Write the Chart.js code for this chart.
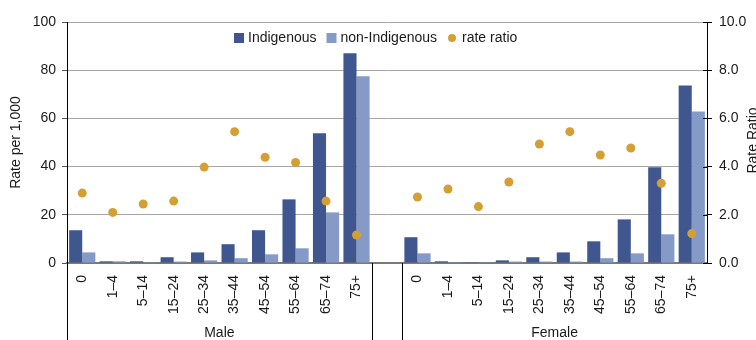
<!DOCTYPE html>
<html lang="en">
  <head>
    <meta charset="UTF-8" />
    <title>Rate per 1,000 by age group</title>
    <style>
      body { margin: 0; background: #fff; }
      #wrap { width: 756px; height: 340px; position: relative; }
    </style>
  </head>

  <body>
    <script src="https://cdn.jsdelivr.net/npm/chart.js"></script>
    <div id="wrap"><canvas id="bar-chart"></canvas></div>

    <script>
      // age groups, used for both sexes
      const ageGroups = ['0', '1–4', '5–14', '15–24', '25–34', '35–44', '45–54', '55–64', '65–74', '75+']
      const sexes = ['Male', 'Female']

      // rate per 1,000
      const indigenousMale = [13.6, 0.7, 0.7, 2.4, 4.4, 7.8, 13.6, 26.4, 53.8, 87.0]
      const nonIndigenousMale = [4.4, 0.7, 0.1, 0.6, 1.1, 2.0, 3.6, 6.1, 21.0, 77.5]
      const indigenousFemale = [10.7, 0.7, 0.1, 1.1, 2.4, 4.4, 9.0, 18.1, 39.7, 73.7]
      const nonIndigenousFemale = [4.0, 0.1, 0.1, 0.6, 0.6, 0.6, 2.0, 4.0, 11.9, 62.9]

      // rate ratio (right axis)
      const ratioMale = [2.9, 2.1, 2.45, 2.57, 3.98, 5.45, 4.39, 4.17, 2.57, 1.16]
      const ratioFemale = [2.74, 3.07, 2.34, 3.36, 4.94, 5.45, 4.48, 4.77, 3.31, 1.22]

      const seriesNames = ['Indigenous', 'non-Indigenous', 'rate ratio']
      const leftTitle = 'Rate per 1,000'
      const rightTitle = 'Rate Ratio'

      // one empty slot between the two groups
      const labels = [...ageGroups, '', ...ageGroups]
      const join = (a, b) => [...a, null, ...b]

      const family = 'Liberation Sans, Arial, sans-serif'
      const font = { family: family, size: 14 }

      const extras = {
        id: 'extras',
        afterDraw(chart) {
          const { ctx, chartArea, scales } = chart
          const x = scales.x
          ctx.save()

          // group dividers below the axis
          ctx.strokeStyle = '#000'
          ctx.lineWidth = 1
          ;[-0.5, ageGroups.length - 0.5, ageGroups.length + 0.5].forEach((v) => {
            const px = Math.round(x.getPixelForValue(v)) + 0.5
            ctx.beginPath()
            ctx.moveTo(px, chartArea.bottom)
            ctx.lineTo(px, chart.height)
            ctx.stroke()
          })

          // inner half of the right axis ticks
          const r = scales.y2
          r.ticks.forEach((t) => {
            const py = Math.round(r.getPixelForValue(t.value)) + 0.5
            ctx.beginPath()
            ctx.moveTo(r.left - 4, py)
            ctx.lineTo(r.left, py)
            ctx.stroke()
          })

          // group labels
          ctx.fillStyle = '#1a1a1a'
          ctx.font = '14px ' + family
          ctx.textAlign = 'center'
          ctx.textBaseline = 'middle'
          const n = ageGroups.length
          const groups = [[-0.5, n - 0.5], [n + 0.5, 2 * n + 0.5]]
          sexes.forEach((s, i) => {
            const cx = (x.getPixelForValue(groups[i][0]) + x.getPixelForValue(groups[i][1])) / 2
            ctx.fillText(s, cx, 333)
          })

          // right axis title, reading bottom to top
          ctx.save()
          ctx.translate(756.5, (chartArea.top + chartArea.bottom) / 2 - 2)
          ctx.rotate(-Math.PI / 2)
          ctx.textBaseline = 'alphabetic'
          ctx.fillText(rightTitle, 0, 0)
          ctx.restore()

          // legend inside the plot
          ctx.font = '14px ' + family
          ctx.textAlign = 'left'
          ctx.textBaseline = 'middle'
          let lx = 234
          const ly = 38
          chart.data.datasets.forEach((ds) => {
            ctx.fillStyle = ds.backgroundColor
            if (ds.type === 'line') {
              ctx.beginPath()
              ctx.arc(lx + 5, ly, 4, 0, Math.PI * 2)
              ctx.fill()
              lx += 15
            } else {
              ctx.fillRect(lx, ly - 5, 10, 10)
              lx += 14
            }
            ctx.fillStyle = '#1a1a1a'
            ctx.fillText(ds.label, lx, ly)
            lx += ctx.measureText(ds.label).width + 10
          })
          ctx.restore()
        },
      }

      new Chart(document.getElementById('bar-chart'), {
        type: 'bar',
        data: {
          labels: labels,
          datasets: [
            {
              label: seriesNames[0],
              backgroundColor: '#3f568e',
              data: join(indigenousMale, indigenousFemale),
              yAxisID: 'y',
              order: 1,
            },
            {
              label: seriesNames[1],
              backgroundColor: '#859ac7',
              data: join(nonIndigenousMale, nonIndigenousFemale),
              yAxisID: 'y',
              order: 1,
            },
            {
              type: 'line',
              label: seriesNames[2],
              backgroundColor: '#d4a034',
              borderColor: '#d4a034',
              showLine: false,
              pointRadius: 4.5,
              pointBorderWidth: 0,
              data: join(ratioMale, ratioFemale),
              yAxisID: 'y2',
              order: 0,
            },
          ],
        },
        options: {
          responsive: true,
          maintainAspectRatio: false,
          animation: false,
          categoryPercentage: 0.86,
          barPercentage: 1,
          layout: { padding: { top: 22, left: 0, right: 0, bottom: 0 } },
          plugins: {
            legend: { display: false },
            tooltip: { enabled: false },
          },
          scales: {
            x: {
              offset: true,
              grid: { display: false, drawTicks: false },
              border: { display: true, color: '#7a7a7a', width: 2 },
              ticks: {
                autoSkip: false,
                minRotation: 90,
                maxRotation: 90,
                padding: 12,
                color: '#1a1a1a',
                font: font,
              },
              afterFit: (s) => { s.height = 77 },
            },
            y: {
              position: 'left',
              min: 0,
              max: 100,
              ticks: { stepSize: 20, padding: 6, color: '#1a1a1a', font: font },
              grid: { color: '#a6a6a6', tickColor: '#555', tickLength: 5 },
              border: { display: true, color: '#000', width: 1 },
              title: {
                display: true,
                text: leftTitle,
                color: '#1a1a1a',
                padding: { top: 8 },
                font: font,
              },
              afterFit: (s) => { s.width = 67 },
            },
            y2: {
              position: 'right',
              min: 0,
              max: 10,
              ticks: {
                stepSize: 2,
                padding: 7,
                crossAlign: 'near',
                color: '#1a1a1a',
                font: font,
                callback: (v) => v.toFixed(1),
              },
              grid: { drawOnChartArea: false, tickColor: '#000', tickLength: 5 },
              border: { display: true, color: '#000', width: 1 },
              afterFit: (s) => { s.width = 49 },
            },
          },
        },
        plugins: [extras],
      })
    </script>
  </body>
</html>
